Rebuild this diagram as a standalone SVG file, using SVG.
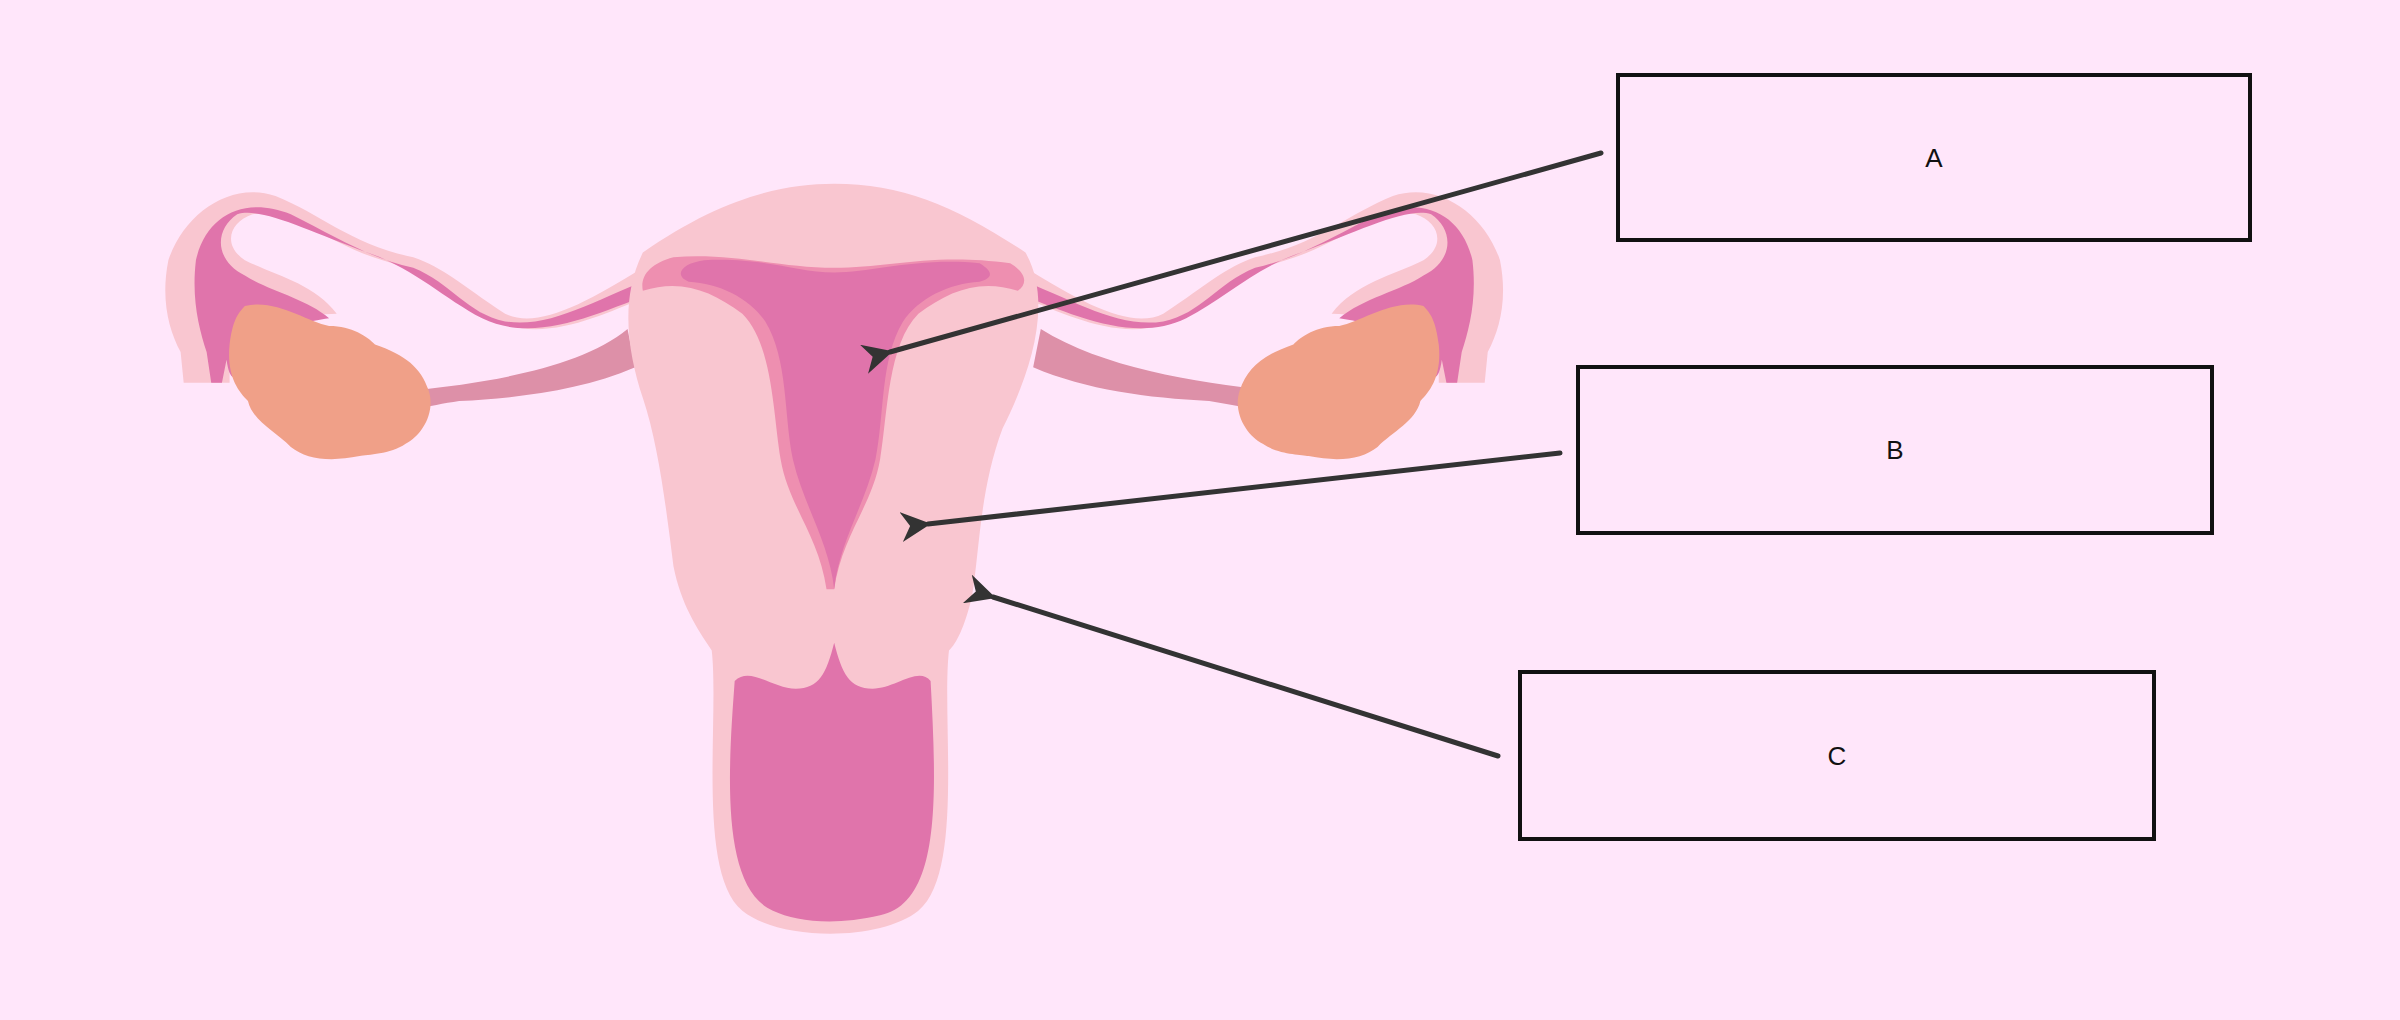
<svg xmlns="http://www.w3.org/2000/svg" width="2400" height="1020" viewBox="0 0 2400 1020">
<style>
.box{fill:none;stroke:#111;stroke-width:4}
.lbl{font-family:"Liberation Sans",Arial,sans-serif;font-size:26px;fill:#111;text-anchor:middle}
.con{stroke:#333;stroke-width:5;fill:none;stroke-linecap:round}
.light{fill:#f9c6d0}
.dark{fill:#e074ab}
.ov{fill:#f0a088}
.lig{fill:#dd90a8}
</style>
<defs>
<marker id="ah" viewBox="0 0 10 10" refX="1" refY="5" markerWidth="6" markerHeight="6" orient="auto-start-reverse" markerUnits="strokeWidth">
<path d="M10,0 L0,5 L10,10 L7,5 Z" fill="#333"/>
</marker>
</defs>
<rect width="2400" height="1020" fill="#ffe6fa"/>
<g id="anatomy" transform="scale(1.5306)">
<!-- ligaments -->
<path class="lig" d="M270,255 C320,250 380,240 410,215 L415,240 C380,255 340,260 300,262 C280,265 260,270 250,272 Z"/>
<path class="lig" d="M830,255 C780,250 720,240 680,215 L675,240 C710,255 750,260 790,262 C810,265 830,270 840,272 Z"/>
<!-- tubes outer -->
<path class="light" d="M420,175 C380,200 350,215 330,205 C300,185 290,175 270,168 C230,160 210,140 180,128 C150,118 120,140 110,170 C105,195 110,215 118,230 L120,250 L150,250 L150,230 C170,215 195,205 220,205 C205,185 180,180 160,170 C145,160 150,145 165,140 C190,135 215,160 250,170 C285,180 300,200 330,212 C360,222 395,205 420,195 Z"/>
<path class="light" d="M670,175 C710,200 740,215 760,205 C790,185 800,175 820,168 C860,160 880,140 910,128 C940,118 970,140 980,170 C985,195 980,215 972,230 L970,250 L940,250 L940,230 C920,215 895,205 870,205 C885,185 910,180 930,170 C945,160 940,145 925,140 C900,135 875,160 840,170 C805,180 790,200 760,212 C730,222 695,205 670,195 Z"/>
<!-- tubes dark -->
<path class="dark" d="M430,180 C390,195 360,215 330,210 C305,205 295,185 270,175 C240,168 220,155 190,140 C160,128 135,140 128,170 C125,195 130,215 135,230 L138,250 L145,250 L148,235 C150,250 155,250 158,235 C180,215 200,210 215,208 C200,195 175,190 160,180 C140,170 140,150 155,140 C170,135 200,150 240,165 C270,175 290,195 315,208 C350,225 390,205 430,190 Z"/>
<path class="dark" d="M660,180 C700,195 730,215 760,210 C785,205 795,185 820,175 C850,168 870,155 900,140 C930,128 955,140 962,170 C965,195 960,215 955,230 L952,250 L945,250 L942,235 C940,250 935,250 932,235 C910,215 890,210 875,208 C890,195 915,190 930,180 C950,170 950,150 935,140 C920,135 890,150 850,165 C820,175 800,195 775,208 C740,225 700,205 660,190 Z"/>
<!-- uterus body -->
<path class="light" d="M420,165 C470,130 510,120 545,120 C590,120 625,135 670,165 C690,200 670,250 655,280 C640,320 640,360 635,390 C630,410 625,420 620,425 C615,470 630,570 600,595 C575,615 510,615 485,595 C455,570 470,470 465,425 C455,410 445,395 440,370 C435,330 430,290 420,260 C410,230 405,195 420,165 Z"/>
<path fill="#ee8fb0" d="M440,168 C480,165 510,175 545,175 C580,175 610,165 660,172 C670,178 672,185 665,190 C640,182 620,190 600,205 C580,225 580,270 575,300 C570,330 550,350 545,385 L540,385 C535,350 515,330 510,300 C505,270 505,225 485,205 C465,190 445,182 420,190 C418,180 425,172 440,168 Z"/>
<path class="dark" d="M460,170 C500,168 520,178 545,178 C570,178 600,168 640,172 C650,178 648,182 640,184 C620,185 600,195 590,210 C575,235 578,270 572,300 C565,330 548,355 545,385 C542,355 525,330 518,300 C512,270 515,235 500,210 C490,195 470,185 450,184 C440,180 445,172 460,170 Z"/>
<path class="dark" d="M480,445 C490,435 505,450 520,450 C535,450 540,440 545,420 C550,440 555,450 570,450 C585,450 600,435 608,445 C612,520 615,590 575,598 C545,605 520,602 505,595 C470,580 476,500 480,445 Z"/>
<!-- ovaries -->
<path class="ov" d="M160,200 C180,195 200,210 215,213 C230,213 240,220 245,225 C265,232 275,240 280,255 C285,270 275,285 265,290 C255,297 240,297 235,298 C215,302 200,300 190,292 C180,282 165,275 162,262 C155,255 148,245 150,225 C152,210 155,205 160,200 Z"/>
<path class="ov" d="M930,200 C910,195 890,210 875,213 C860,213 850,220 845,225 C825,232 815,240 810,255 C805,270 815,285 825,290 C835,297 850,297 855,298 C875,302 890,300 900,292 C910,282 925,275 928,262 C935,255 942,245 940,225 C938,210 935,205 930,200 Z"/>
</g>
<g id="boxA"><rect class="box" x="1618" y="75" width="632" height="165"/><text class="lbl" x="1934" y="167">A</text></g>
<g id="boxB"><rect class="box" x="1578" y="367" width="634" height="166"/><text class="lbl" x="1895" y="459">B</text></g>
<g id="boxC"><rect class="box" x="1520" y="672" width="634" height="167"/><text class="lbl" x="1837" y="765">C</text></g>
<g id="connectors">
<line class="con" x1="1601" y1="153" x2="890" y2="352" marker-end="url(#ah)"/>
<line class="con" x1="1560" y1="453" x2="928" y2="524" marker-end="url(#ah)"/>
<line class="con" x1="1498" y1="756" x2="993" y2="597" marker-end="url(#ah)"/>
</g>
</svg>
